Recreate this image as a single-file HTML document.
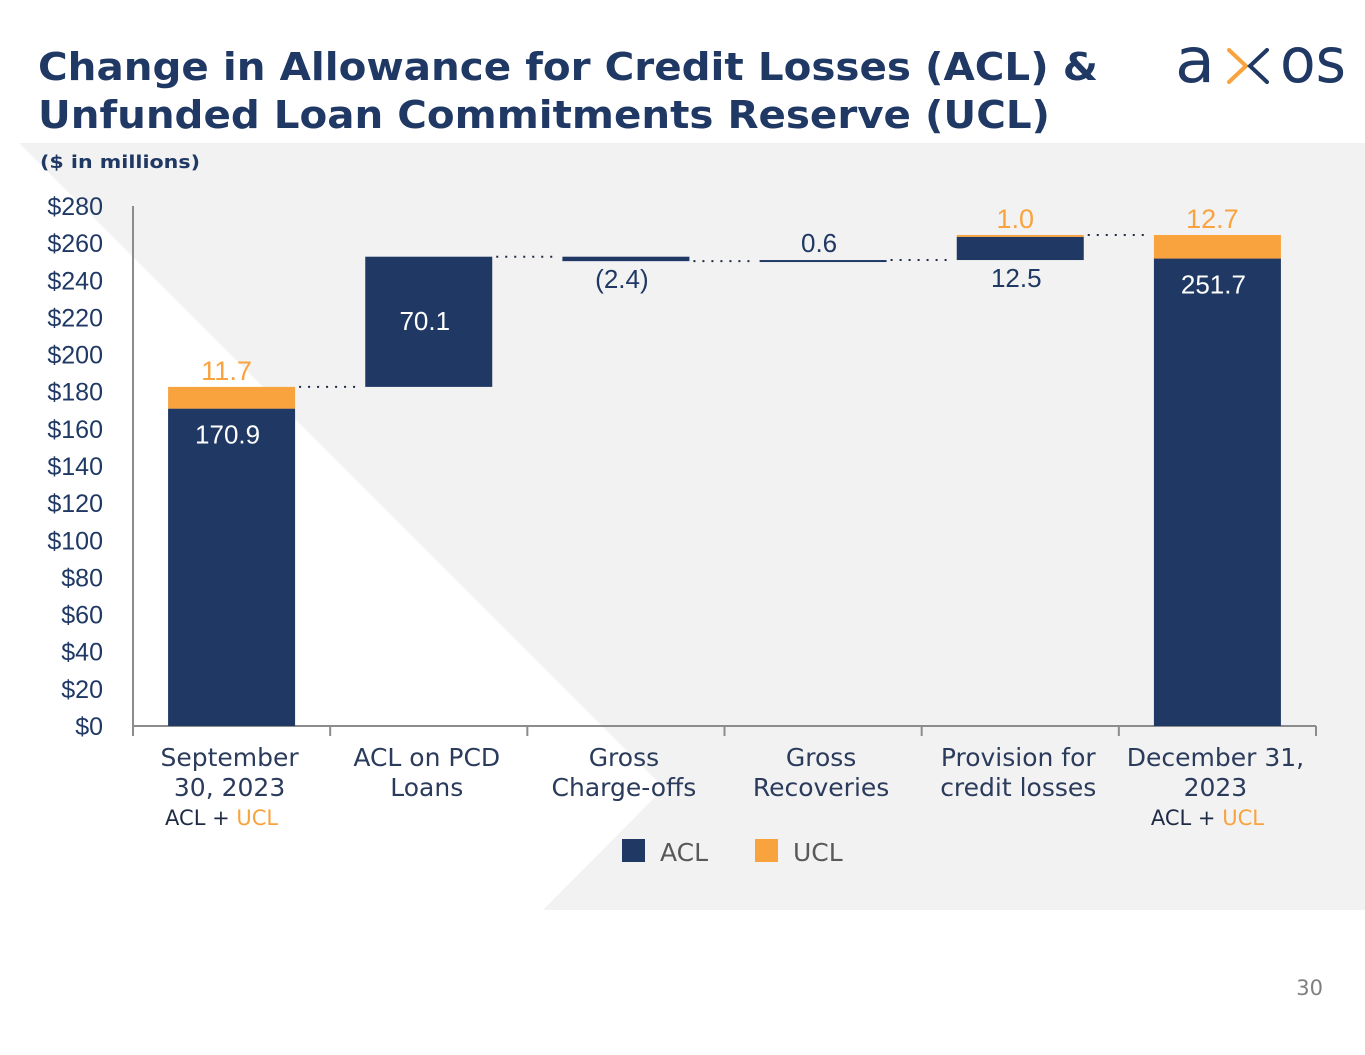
<!DOCTYPE html>
<html><head><meta charset="utf-8"><style>
html,body{margin:0;padding:0;background:#fff;}
svg{display:block;}
</style></head><body>
<svg id="chart" width="1365" height="1055" viewBox="0 0 1365 1055" xmlns="http://www.w3.org/2000/svg">
<rect x="0" y="143" width="1365" height="767" fill="#f2f2f2"/>
<polygon points="0,140 16,140 664,788 543,910 0,910" fill="#ffffff"/>
<text x="38" y="80" font-family="'DejaVu Sans',Verdana,sans-serif" font-weight="bold" font-size="38" fill="#1f3864" textLength="1060" lengthAdjust="spacingAndGlyphs">Change in Allowance for Credit Losses (ACL) &amp;</text>
<text x="38" y="128" font-family="'DejaVu Sans',Verdana,sans-serif" font-weight="bold" font-size="38" fill="#1f3864" textLength="1012" lengthAdjust="spacingAndGlyphs">Unfunded Loan Commitments Reserve (UCL)</text>
<text x="40" y="168" font-family="'DejaVu Sans',Verdana,sans-serif" font-weight="bold" font-size="18" fill="#1f3864" textLength="160" lengthAdjust="spacingAndGlyphs">($ in millions)</text>
<g>
<text x="1175" y="82" font-family="'DejaVu Sans',sans-serif" font-size="62" fill="#1f3864" textLength="40" lengthAdjust="spacingAndGlyphs">a</text>
<path d="M1229,50 L1246,66 L1229,82" stroke="#f9a33e" stroke-width="4" fill="none" stroke-linecap="round"/>
<path d="M1267,50 L1250,66 L1267,82" stroke="#1f3864" stroke-width="4" fill="none" stroke-linecap="round"/>
<text x="1280" y="82" font-family="'DejaVu Sans',sans-serif" font-size="62" fill="#1f3864" textLength="66" lengthAdjust="spacingAndGlyphs">os</text>
</g>
<g id="axes"></g>
<g id="marks"></g>
<g id="labels"></g>
<g>
<rect x="622" y="839" width="23" height="23" fill="#203864"/>
<text x="660" y="861" font-family="'DejaVu Sans',Verdana,sans-serif" font-size="25" fill="#595959">ACL</text>
<rect x="755" y="839" width="23" height="23" fill="#f9a33e"/>
<text x="793" y="861" font-family="'DejaVu Sans',Verdana,sans-serif" font-size="25" fill="#595959">UCL</text>
</g>
<text x="1323" y="995" text-anchor="end" font-family="'DejaVu Sans',Verdana,sans-serif" font-size="21" fill="#7f7f7f">30</text>
</svg>
<script>
var categories = [["September","30, 2023"],["ACL on PCD","Loans"],["Gross","Charge-offs"],["Gross","Recoveries"],["Provision for","credit losses"],["December 31,","2023"]];
var aclValues = [170.9, 70.1, -2.4, 0.6, 12.5, 251.7];
var uclValues = [11.7, 0, 0, 0, 1.0, 12.7];
var isTotal = [true, false, false, false, false, true];
var valueLabels = ["170.9","70.1","(2.4)","0.6","12.5","251.7"];
var uclLabels = ["11.7","","","","1.0","12.7"];
var yTicks = [0,20,40,60,80,100,120,140,160,180,200,220,240,260,280];

var NS="http://www.w3.org/2000/svg";
var plotL=133, plotR=1316, y0=726, yTop=206, yMax=280;
var catW=(plotR-plotL)/categories.length, barW=127;
function yS(v){return y0-(v/yMax)*(y0-yTop);}
function xC(i){return plotL+catW*(i+0.5);}
function mk(tag,attrs,parent,txt){var e=document.createElementNS(NS,tag);for(var k in attrs)e.setAttribute(k,attrs[k]);if(txt!==undefined)e.textContent=txt;parent.appendChild(e);return e;}
var axes=document.getElementById('axes'),marks=document.getElementById('marks'),labels=document.getElementById('labels');
var FT="'Liberation Sans',Arial,sans-serif", FV="'DejaVu Sans',Verdana,sans-serif";

var ax=mk('line',{x1:plotL,y1:yTop,x2:plotL,y2:y0,stroke:'#8c8c8c','stroke-width':2},axes);


var xa=mk('line',{x1:plotL,y1:y0,x2:plotR,y2:y0,stroke:'#8c8c8c','stroke-width':2},axes);


yTicks.forEach(function(t){
  var tl=mk('text',{x:103,y:yS(t)+9,'text-anchor':'end','font-family':FT,'font-size':25,fill:'#1f3864'},axes,'$'+t);
  
  
});
for(var i=0;i<=categories.length;i++){
  var tk=mk('line',{x1:plotL+catW*i,y1:y0,x2:plotL+catW*i,y2:y0+10,stroke:'#8c8c8c','stroke-width':2},axes);
  
  
}
categories.forEach(function(c,i){
  c.forEach(function(line,j){
    var t=mk('text',{x:xC(i)-2,y:766+30*j,'text-anchor':'middle','font-family':FV,'font-size':25,fill:'#2b3b5c'},labels,line);
    
    
  });
  if(isTotal[i]){
    var s=mk('text',{x:xC(i)-10,y:825,'text-anchor':'middle','font-family':FV,'font-size':21,fill:'#1f2a44'},labels);
    
    
    mk('tspan',{},s,'ACL + ');
    mk('tspan',{fill:'#f9a33e'},s,'UCL');
  }
});

var running=0, prevTop=null, prevRight=null;
aclValues.forEach(function(v,i){
  var x=xC(i)-barW/2, base, aTop, total;
  if(isTotal[i]){ base=0; aTop=v; }
  else if(v>=0){ base=running; aTop=running+v; }
  else { base=running+v; aTop=running; }
  var acl=mk('rect',{x:x,y:yS(Math.max(base,aTop)),width:barW,height:Math.max(2,yS(Math.min(base,aTop))-yS(Math.max(base,aTop))),fill:'#203864'},marks);
  
  
  var upper=Math.max(base,aTop);
  if(uclValues[i]>0){
    var u=mk('rect',{x:x,y:yS(upper+uclValues[i]),width:barW,height:yS(upper)-yS(upper+uclValues[i]),fill:'#f9a33e'},marks);
    
    
  }
  if(isTotal[i]) total=v+uclValues[i];
  else if(v>=0) total=running+v+uclValues[i];
  else total=running+v;
  if(prevTop!==null){
    var conY = (aclValues[i]<0)? yS(running) : yS(prevTop);
    var d=mk('line',{x1:prevRight+4,y1:conY,x2:x-4,y2:conY,stroke:'#1f2a44','stroke-width':2,'stroke-dasharray':'2,7'},marks);
    
    
  }
  var lx=xC(i), ly, col='#1f3864';
  if(isTotal[i]||(v>=0&&v>20)){ ly=yS(Math.max(base,aTop))+35; col='#ffffff'; if(!isTotal[i]) ly=(yS(base)+yS(aTop))/2+8; }
  else if(v<0){ ly=yS(base)+27; }
  else if(uclValues[i]>0){ ly=yS(base)+27; }
  else { ly=yS(aTop)-8; }
  var vl=mk('text',{x:lx-4,y:ly,'text-anchor':'middle','font-family':FT,'font-size':26,fill:col},labels,valueLabels[i]);
  
  
  if(uclLabels[i]){
    var ul=mk('text',{x:lx-5,y:yS(upper+uclValues[i])-7,'text-anchor':'middle','font-family':FT,'font-size':27,fill:'#f9a33e'},labels,uclLabels[i]);
    
    
  }
  running=total; prevTop=total; prevRight=x+barW;
});
</script>
</body></html>
